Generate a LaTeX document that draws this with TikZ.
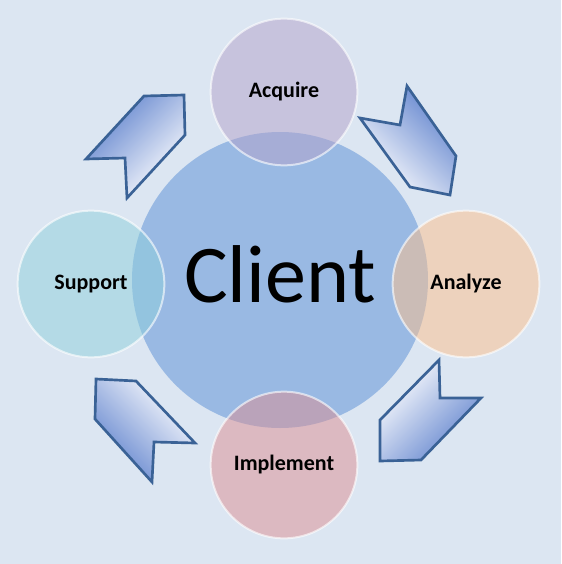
\documentclass[tikz,border=0pt]{standalone}
\usepackage{fontspec}
\setmainfont{Carlito}
\definecolor{bgblue}{RGB}{220,230,242}
\definecolor{clientblue}{RGB}{153,185,227}
\definecolor{acqcol}{RGB}{180,162,202}
\definecolor{anacol}{RGB}{254,192,138}
\definecolor{impcol}{RGB}{220,142,146}
\definecolor{supcol}{RGB}{142,208,220}
\definecolor{arrowline}{RGB}{58,98,150}
\definecolor{arrowdark}{RGB}{95,130,205}
\definecolor{arrowlight}{RGB}{255,255,255}
\begin{document}
\begin{tikzpicture}[x=0.75pt,y=-0.75pt,
  stage/.style={circle, minimum size=110pt, inner sep=0pt, fill opacity=0.5,
    text opacity=1, draw=white, draw opacity=0.6, line width=1.5pt,
    font=\bfseries\fontsize{16.5}{18}\selectfont},
  cycarrow/.style={draw=arrowline, line width=2pt, line join=miter,
    top color=arrowdark, bottom color=arrowlight}]
  \fill[bgblue] (0,0) rectangle (561,564);
  % arrows round the cycle
  \draw[cycarrow, shading angle=45] (144,96) -- (184,95) -- (185,135) -- (127,198) -- (125,158) -- (86,159) -- cycle;
  \draw[cycarrow, shading angle=-45] (407,86) -- (456,156) -- (450,195) -- (410,187) -- (360,118) -- (400,125) -- cycle;
  \draw[cycarrow, shading angle=-135] (439,360) -- (440,398) -- (481,398) -- (421,460) -- (380,461) -- (380,420) -- cycle;
  \draw[cycarrow, shading angle=135] (96,379) -- (136,381) -- (195,443) -- (154,442) -- (152,482) -- (95,419) -- cycle;
  \node[circle, fill=clientblue, minimum size=222pt, inner sep=0pt, text depth=9pt,
    font=\fontsize{61.5}{64}\selectfont] (client) at (280,280) {Client};
  \node[stage, fill=acqcol] (acquire) at (284,92) {Acquire};
  \node[stage, fill=anacol] (analyze) at (466,284) {Analyze};
  \node[stage, fill=impcol] (implement) at (284,465) {Implement};
  \node[stage, fill=supcol] (support) at (91,284) {Support};
\end{tikzpicture}
\end{document}
